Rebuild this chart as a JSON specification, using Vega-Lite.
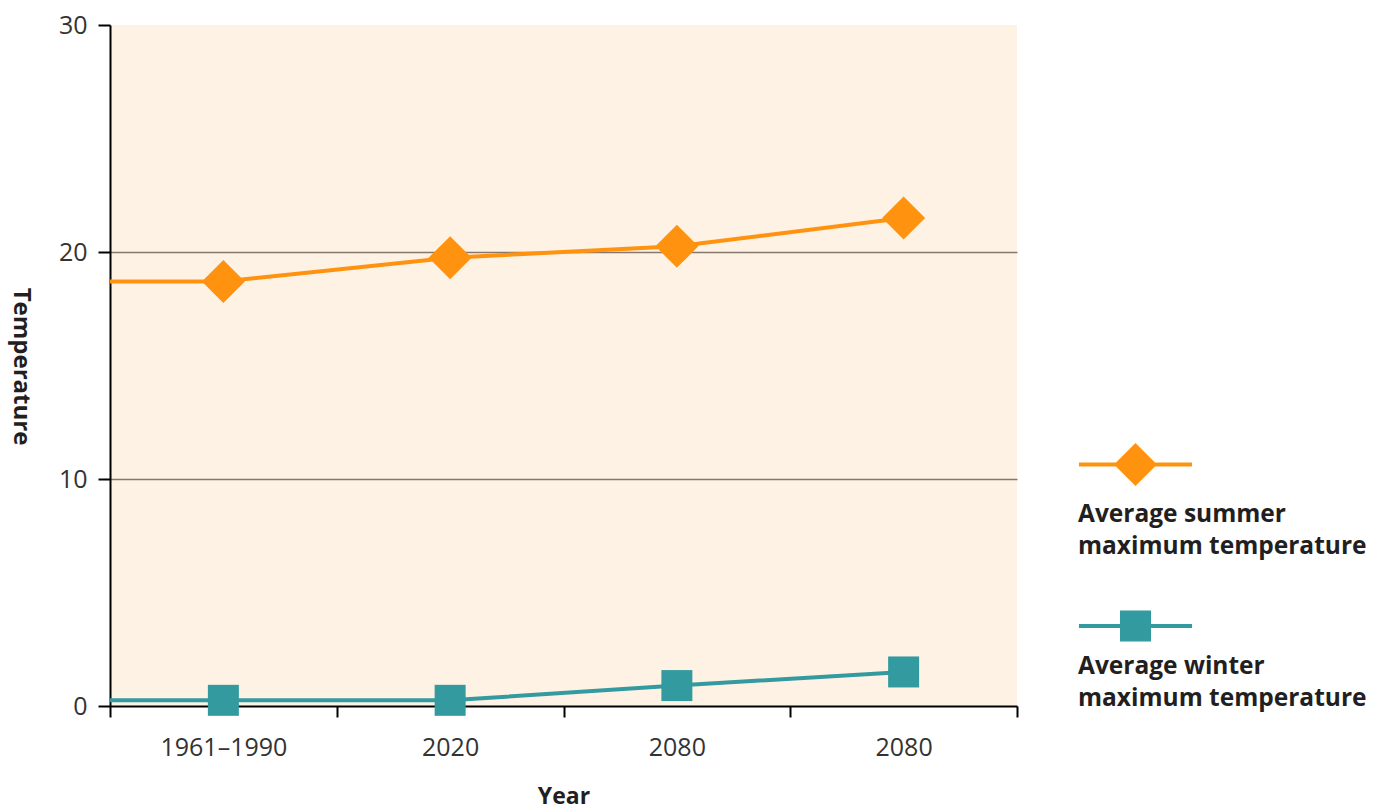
{
  "$schema": "https://vega.github.io/schema/vega-lite/v6.json",
  "width": 907,
  "height": 681,
  "autosize": {"type": "none"},
  "padding": {"left": 110, "top": 25, "right": 367, "bottom": 103},
  "background": "white",
  "config": {
    "font": "Open Sans",
    "view": {"fill": "#FEF2E5", "stroke": null}
  },
  "data": {
    "values": [
      {"series": "summer", "period": "start", "pos": 0, "temp": 18.7, "marker": false},
      {"series": "summer", "period": "1961–1990", "pos": 0.5, "temp": 18.7, "marker": true},
      {"series": "summer", "period": "2020", "pos": 1.5, "temp": 19.75, "marker": true},
      {"series": "summer", "period": "2080", "pos": 2.5, "temp": 20.25, "marker": true},
      {"series": "summer", "period": "2080", "pos": 3.5, "temp": 21.5, "marker": true},
      {"series": "winter", "period": "start", "pos": 0, "temp": 0.25, "marker": false},
      {"series": "winter", "period": "1961–1990", "pos": 0.5, "temp": 0.25, "marker": true},
      {"series": "winter", "period": "2020", "pos": 1.5, "temp": 0.25, "marker": true},
      {"series": "winter", "period": "2080", "pos": 2.5, "temp": 0.9, "marker": true},
      {"series": "winter", "period": "2080", "pos": 3.5, "temp": 1.5, "marker": true}
    ]
  },
  "layer": [
    {
      "mark": {"type": "line", "strokeWidth": 4},
      "encoding": {
        "x": {
          "field": "pos", "type": "quantitative",
          "scale": {"domain": [0, 4], "nice": false, "zero": false},
          "axis": {
            "values": [0, 0.5, 1, 1.5, 2, 2.5, 3, 3.5, 4],
            "title": "Year", "grid": false,
            "labelExpr": "datum.value==0.5?'1961–1990':datum.value==1.5?'2020':(datum.value==2.5||datum.value==3.5)?'2080':''",
            "tickOpacity": {"condition": {"test": "datum.value % 1 != 0", "value": 0}, "value": 1},
            "tickSize": 11, "tickWidth": 2, "tickColor": "#000",
            "domainColor": "#000", "domainWidth": 2,
            "labelFontSize": 25, "labelColor": "#333", "labelPadding": 18,
            "labelFlush": false, "labelOverlap": false,
            "titleFontSize": 23, "titleFontWeight": "bold", "titleColor": "#231F20", "titlePadding": 25
          }
        },
        "y": {
          "field": "temp", "type": "quantitative",
          "scale": {"domain": [0, 30], "nice": false},
          "axis": {
            "values": [0, 10, 20, 30],
            "title": "Temperature", "grid": true,
            "gridColor": "#85796d", "gridWidth": 1.5,
            "gridOpacity": {"condition": {"test": "datum.value==0||datum.value==30", "value": 0}, "value": 1},
            "tickSize": 12, "tickWidth": 2, "tickColor": "#000",
            "domainColor": "#000", "domainWidth": 2,
            "labelFontSize": 25, "labelColor": "#333", "labelPadding": 11,
            "titleFontSize": 24, "titleFontWeight": "bold", "titleColor": "#231F20",
            "titleAngle": 90, "titleX": -90, "titleY": 341,
            "titleBaseline": "middle", "titleAlign": "center"
          }
        },
        "color": {
          "field": "series", "type": "nominal",
          "scale": {"domain": ["summer", "winter"], "range": ["#FF930F", "#339B9F"]},
          "legend": {
            "orient": "none", "legendX": 1004, "legendY": 418,
            "title": null, "direction": "vertical", "padding": 0,
            "symbolSize": 1849, "symbolStrokeWidth": 0, "rowPadding": 45.5,
            "labelFontSize": 24.5, "labelFontWeight": "bold", "labelColor": "#231F20",
            "labelBaseline": "top", "labelOffset": -79, "labelLimit": 600,
            "labelExpr": "datum.value=='summer'?['Average summer','maximum temperature']:['Average winter','maximum temperature']",
            "encode": {
              "symbols": {
                "update": {
                  "shape": {"signal": "datum.value=='summer' ? 'M-2.63,-0.093L-0.907,-0.093L0,-1L0.907,-0.093L2.63,-0.093L2.63,0.093L0.907,0.093L0,1L-0.907,0.093L-2.63,0.093Z' : 'M-2.63,-0.093L-0.721,-0.093L-0.721,-0.721L0.721,-0.721L0.721,-0.093L2.63,-0.093L2.63,0.093L0.721,0.093L0.721,0.721L-0.721,0.721L-0.721,0.093L-2.63,0.093Z'"},
                  "size": {"value": 1849},
                  "fill": {"scale": "color", "field": "value"},
                  "strokeWidth": {"value": 0},
                  "opacity": {"value": 1}
                }
              },
              "labels": {
                "update": {
                  "dy": {"signal": "datum.value=='summer' ? 38 : 28.5"},
                  "lineHeight": {"value": 32.5}
                }
              }
            }
          }
        }
      }
    },
    {
      "transform": [{"filter": "datum.marker && datum.series=='summer'"}],
      "mark": {"type": "point", "filled": true, "opacity": 1, "shape": "diamond", "size": 1849},
      "encoding": {
        "x": {"field": "pos", "type": "quantitative"},
        "y": {"field": "temp", "type": "quantitative"},
        "color": {"field": "series", "type": "nominal"}
      }
    },
    {
      "transform": [{"filter": "datum.marker && datum.series=='winter'"}],
      "mark": {"type": "point", "filled": true, "opacity": 1, "shape": "square", "size": 961},
      "encoding": {
        "x": {"field": "pos", "type": "quantitative"},
        "y": {"field": "temp", "type": "quantitative"},
        "color": {"field": "series", "type": "nominal"}
      }
    }
  ]
}
